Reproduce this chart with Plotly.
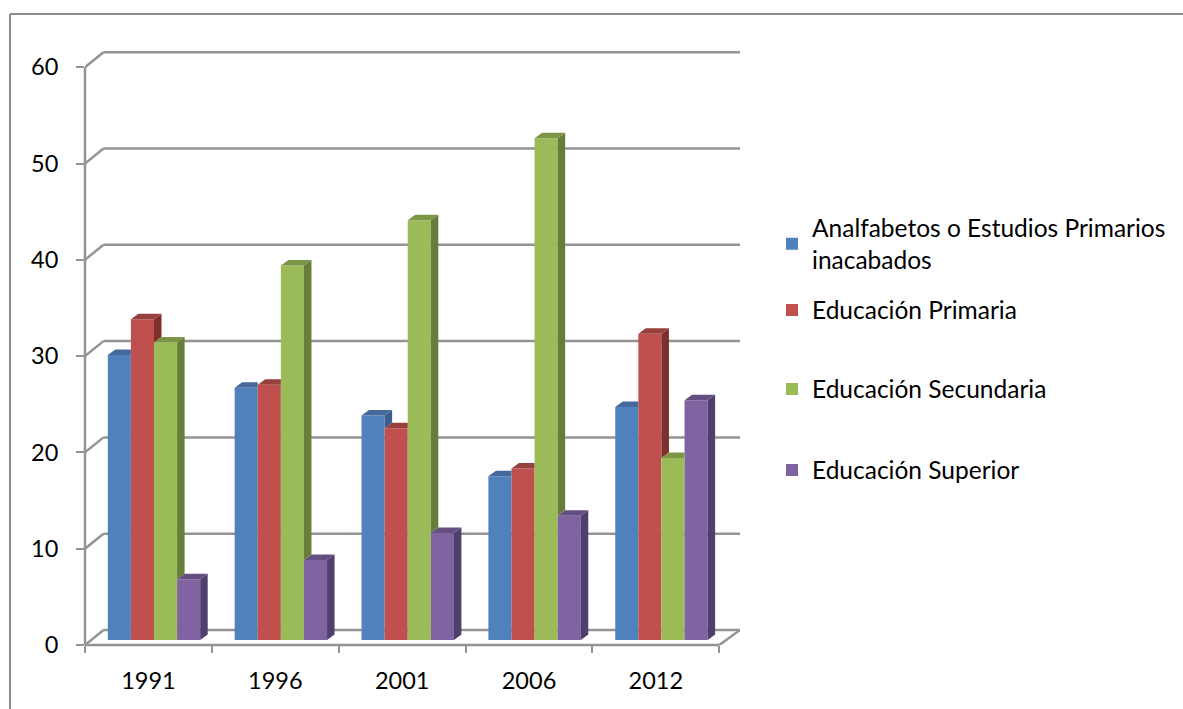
import plotly.graph_objects as go

years = ["1991", "1996", "2001", "2006", "2012"]
series_names = [
    "Analfabetos o Estudios Primarios<br>inacabados",
    "Educación Primaria",
    "Educación Secundaria",
    "Educación Superior",
]
analfabetos = [29.6, 26.2, 23.3, 17.0, 24.2]
primaria = [33.3, 26.5, 22.0, 17.8, 31.8]
secundaria = [30.9, 38.9, 43.6, 52.1, 18.9]
superior = [6.3, 8.3, 11.1, 12.9, 24.9]
y_ticks = [0, 10, 20, 30, 40, 50, 60]

front_colors = ["#4F81BD", "#C0504D", "#9BBB59", "#8064A2"]
top_colors = ["#44699A", "#97403D", "#7C9647", "#654F82"]
side_colors = ["#3A5F8C", "#7F2F2D", "#667E3A", "#503E6C"]
LINE = "#949494"
FONT = "Lato"

W, H = 1183, 709
L, R, T, B = 85, 740, 48, 645
PX_X = 126.86
PX_Y = 9.63
x_max = (R - L) / PX_X
y_max = (B - T) / PX_Y

wall_dx = 18.5 / PX_X
wall_dy = 15 / PX_Y
bar_dx = 7.5 / PX_X
bar_dy = 5.5 / PX_Y
lift = 5 / PX_Y
bar_w = 23.1 / PX_X
group_start = 22.8 / PX_X

all_series = [analfabetos, primaria, secundaria, superior]
n_cat = len(years)
legend_ids = ["legend", "legend2", "legend3", "legend4"]
legend_centres = [244, 310, 389, 470]


def paper_x(px):
    return (px - L) / (R - L)


def paper_y(px):
    return (B - px) / (B - T)


fig = go.Figure()

# Front faces of the columns
for s, values in enumerate(all_series):
    fig.add_trace(go.Bar(
        x=[c + group_start + (s + 0.5) * bar_w for c in range(n_cat)],
        y=values,
        base=[lift] * n_cat,
        width=bar_w,
        name=series_names[s],
        legend=legend_ids[s],
        marker=dict(color=front_colors[s], line=dict(width=0)),
    ))


def add_face(xs, ys, color):
    fig.add_trace(go.Scatter(
        x=xs, y=ys, mode="lines", fill="toself", fillcolor=color,
        line=dict(width=0, color=color), showlegend=False, hoverinfo="skip",
    ))


# Depth faces: side and top of each column, left to right
for c in range(n_cat):
    for s, values in enumerate(all_series):
        v = values[c] + lift
        x0 = c + group_start + s * bar_w
        x1 = x0 + bar_w
        nxt = all_series[s + 1][c] + lift if s < 3 else None
        if nxt is None:
            add_face([x1, x1, x1 + bar_dx, x1 + bar_dx],
                     [lift, v, v + bar_dy, lift + bar_dy], side_colors[s])
            add_face([x0, x1, x1 + bar_dx, x0 + bar_dx],
                     [v, v, v + bar_dy, v + bar_dy], top_colors[s])
        elif nxt < v:
            add_face([x1, x1, x1 + bar_dx, x1 + bar_dx],
                     [nxt, v, v + bar_dy, nxt + bar_dy], side_colors[s])
            add_face([x0, x1, x1 + bar_dx, x0 + bar_dx],
                     [v, v, v + bar_dy, v + bar_dy], top_colors[s])
        else:
            add_face([x0, x1, x1, x0 + bar_dx],
                     [v, v, v + bar_dy, v + bar_dy], top_colors[s])

shapes = []
line_style = dict(color=LINE, width=2.5)


def data_line(x0, y0, x1, y1):
    shapes.append(dict(type="line", xref="x", yref="y", x0=x0, y0=y0, x1=x1, y1=y1,
                       layer="below", line=line_style))


# Back wall gridlines, each joined to the front axis by a short diagonal
for t in y_ticks:
    data_line(wall_dx, t + wall_dy, x_max, t + wall_dy)
    data_line(0, t, wall_dx, t + wall_dy)
data_line(n_cat, 0, x_max, wall_dy)

# Front axis lines sit on the plot edge, so they are not clipped to it
shapes.append(dict(type="line", xref="paper", yref="y", x0=0, x1=0, y0=0, y1=y_ticks[-1],
                   layer="below", line=line_style))
shapes.append(dict(type="line", xref="x", yref="paper", x0=0, x1=n_cat, y0=0, y1=0,
                   layer="below", line=line_style))

# Outer frame of the picture
for a, b, c, d in [(10, 14, W, 14), (10, 14, 10, H)]:
    shapes.append(dict(type="line", xref="paper", yref="paper",
                       x0=paper_x(a), y0=paper_y(b), x1=paper_x(c), y1=paper_y(d),
                       layer="below", line=dict(color="#8C8C8C", width=2)))

legend_layout = {
    lid: dict(
        x=paper_x(772), xanchor="left", y=paper_y(cy), yanchor="middle",
        bgcolor="rgba(0,0,0,0)", itemwidth=30,
        font=dict(family=FONT, size=24.5, color="black"),
        itemclick=False, itemdoubleclick=False,
    )
    for lid, cy in zip(legend_ids, legend_centres)
}

fig.update_layout(
    width=W, height=H, autosize=False,
    margin=dict(l=L, r=W - R, t=T, b=H - B, pad=0),
    paper_bgcolor="white", plot_bgcolor="white",
    barmode="overlay",
    font=dict(family=FONT, size=23.5, color="black"),
    shapes=shapes,
    xaxis=dict(
        range=[0, x_max], showgrid=False, zeroline=False,
        tickmode="array", tickvals=[c + 0.5 for c in range(n_cat)], ticktext=years,
        ticks="", ticklabelstandoff=19,
        showline=False, fixedrange=True,
        minor=dict(tickmode="array", tickvals=list(range(n_cat + 1)), ticks="outside",
                   ticklen=7, tickwidth=2, tickcolor=LINE, showgrid=False),
    ),
    yaxis=dict(
        range=[0, y_max], showgrid=False, zeroline=False, showline=False,
        tickmode="array", tickvals=y_ticks, ticks="outside", ticklen=8, tickwidth=2,
        tickcolor=LINE, ticklabelstandoff=13, fixedrange=True,
    ),
    **legend_layout,
)

fig.write_html("out.html", config={"displayModeBar": False},
               post_script="document.body.style.margin='0';")
